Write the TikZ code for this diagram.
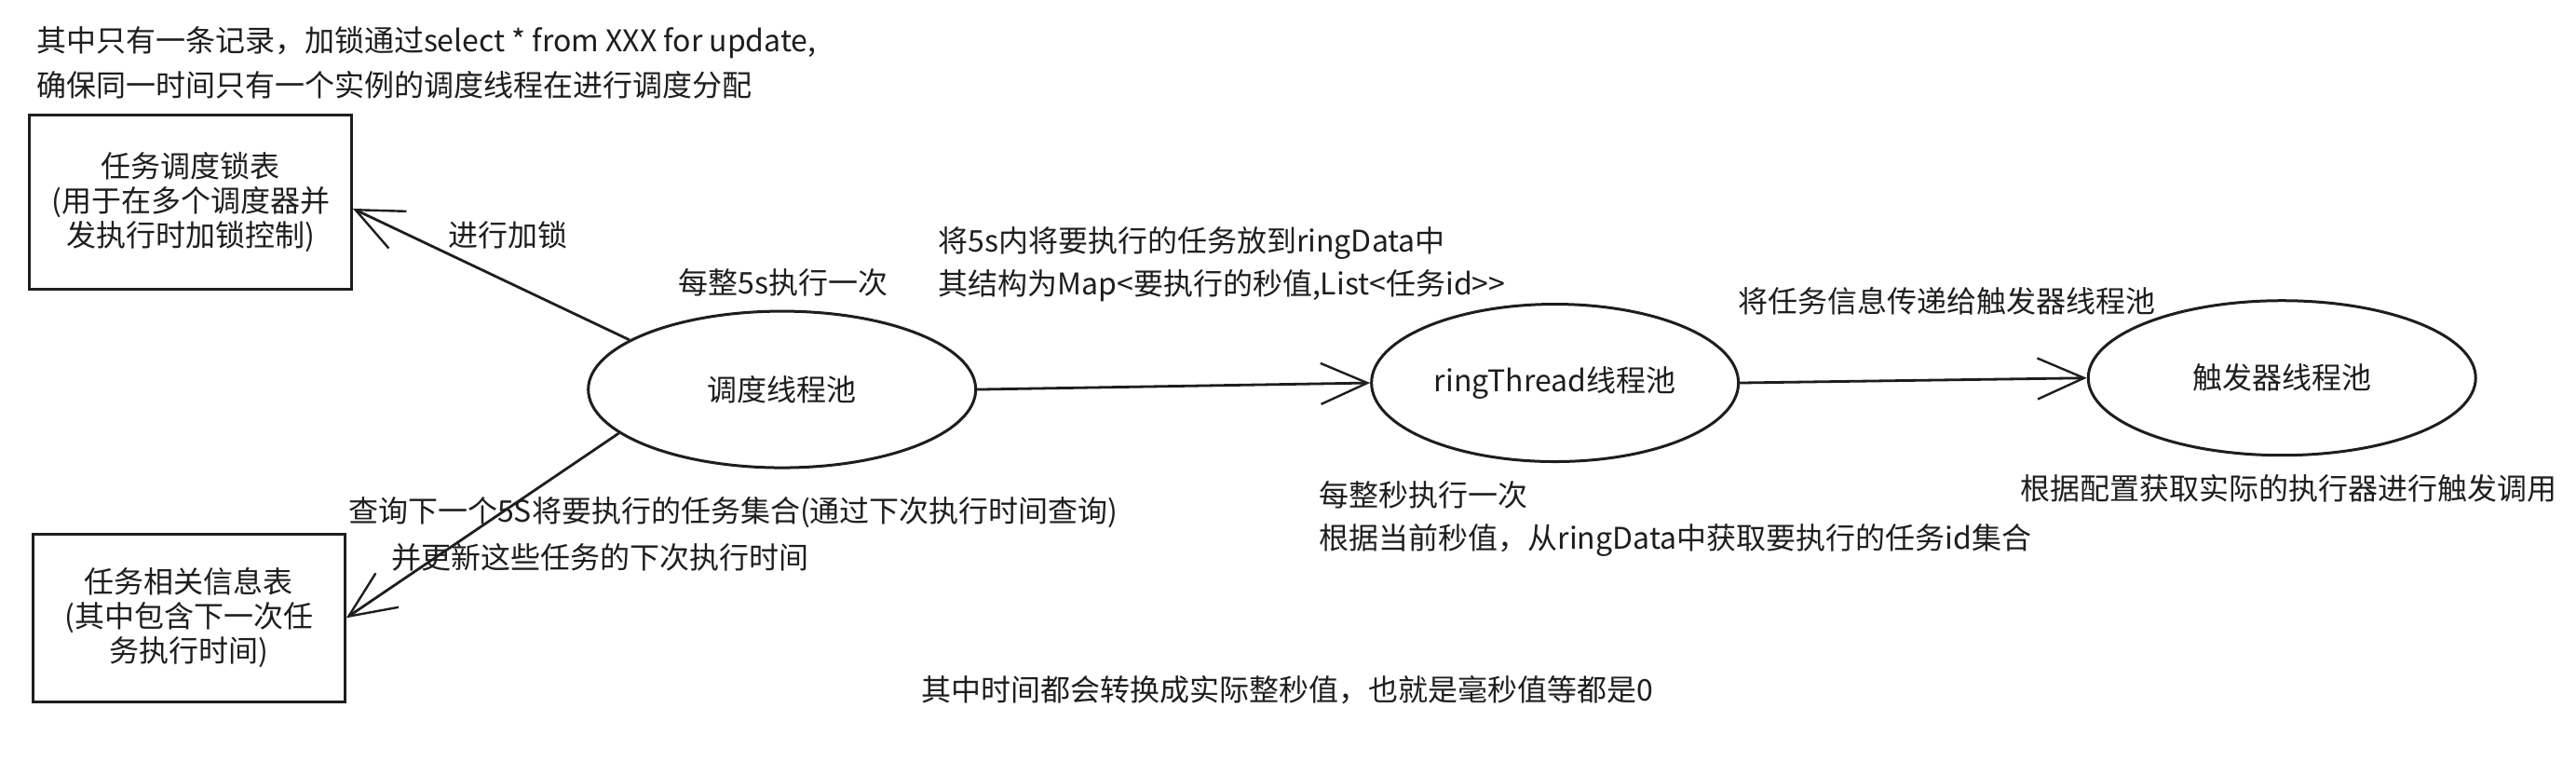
\documentclass[tikz,border=0pt]{standalone}
\usepackage{fontspec}
\setmainfont{Noto Sans CJK SC}
\usetikzlibrary{arrows.meta,shapes.geometric}
\definecolor{ink}{HTML}{1E1E1E}
\begin{document}
\begin{tikzpicture}[x=1.76403pt,y=-1.76403pt,
  font=\fontsize{32}{38}\selectfont, color=ink,
  txt/.style={inner sep=0pt, anchor=west, text=ink},
  tbox/.style={draw=ink, line width=3pt, rectangle, align=center, inner sep=0pt, text=ink, font=\fontsize{32}{37}\selectfont},
  pool/.style={draw=ink, line width=3pt, ellipse, inner sep=0pt, text=ink},
  arr/.style={draw=ink, line width=2.8pt, -{Straight Barb[length=50pt,width=44pt,line width=2.4pt]}}]
\useasboundingbox[fill=white] (0,0) rectangle (1568,471.65);

% top note
\node[txt] (n1) at (22,26) {其中只有一条记录，加锁通过select * from XXX for update,};
\node[txt] (n2) at (22,52) {确保同一时间只有一个实例的调度线程在进行调度分配};

% tables
\node[tbox, minimum width=345.7pt, minimum height=187pt] (lock) at (116,123)
  {任务调度锁表\\(用于在多个调度器并\\发执行时加锁控制)};
\node[tbox, minimum width=335pt, minimum height=180pt] (info) at (115,376)
  {任务相关信息表\\(其中包含下一次任\\务执行时间)};

% thread pools
\node[pool, minimum width=416pt, minimum height=168pt] (sched) at (476,237) {调度线程池};
\node[pool, minimum width=394pt, minimum height=169pt] (ring) at (946.5,233) {ringThread线程池};
\node[pool, minimum width=416pt, minimum height=166pt] (trig) at (1389,230) {触发器线程池};

% connectors
\draw[arr] (sched.162.5) -- ([yshift=-7pt]lock.east);
\draw[arr] (sched.195.6) -- (info.east);
\draw[arr] (sched.east) -- (ring.west);
\draw[arr] (ring.east) -- (trig.west);

% labels
\node[txt] (l1) at (273,143) {进行加锁};
\node[txt] (l2) at (413,172) {每整5s执行一次};
\node[txt] (l3) at (571,148) {将5s内将要执行的任务放到ringData中};
\node[txt] (l4) at (571,174) {其结构为Map<要执行的秒值,List<任务id>\kern0pt>};
\node[txt] (l5) at (1058,183) {将任务信息传递给触发器线程池};
\node[txt] (l6) at (212,312) {查询下一个5S将要执行的任务集合(通过下次执行时间查询)};
\node[txt] (l7) at (238,339) {并更新这些任务的下次执行时间};
\node[txt] (l8) at (803,301) {每整秒执行一次};
\node[txt] (l9) at (803,329) {根据当前秒值，从ringData中获取要执行的任务id集合};
\node[txt] (l10) at (1230,297) {根据配置获取实际的执行器进行触发调用};
\node[txt] (l11) at (561,420) {其中时间都会转换成实际整秒值，也就是毫秒值等都是0};
\end{tikzpicture}
\end{document}
